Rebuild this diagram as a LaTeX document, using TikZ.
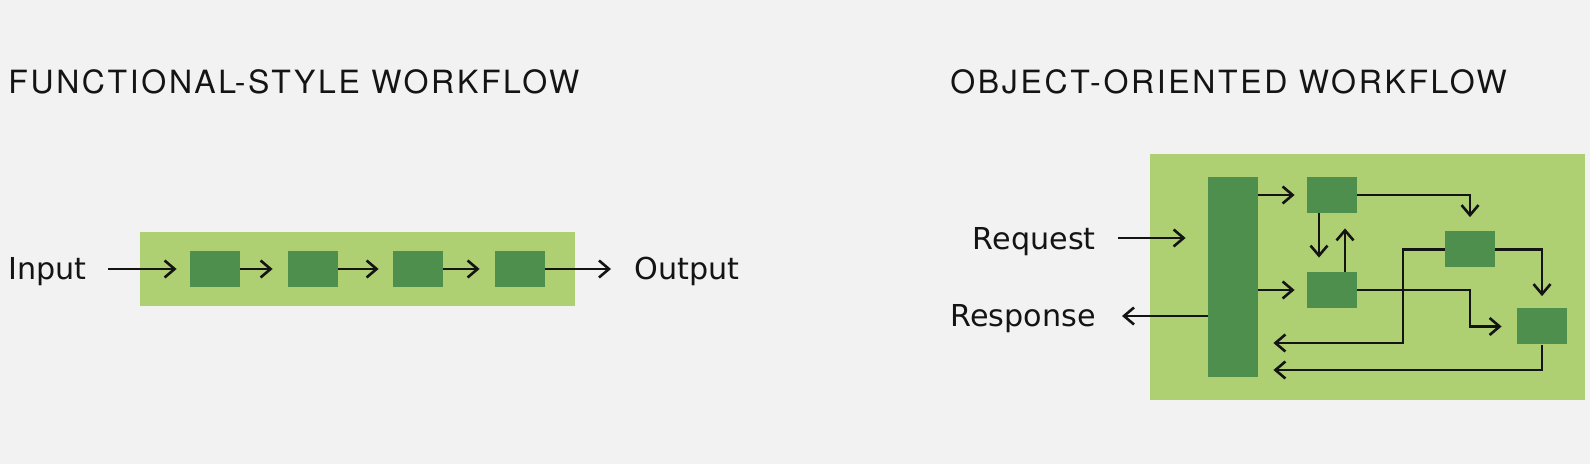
\documentclass[tikz,border=0pt]{standalone}
\usepackage{fontspec}
\setmainfont{DejaVu Sans}
\newfontfamily\titlefont[LetterSpace=8.3]{TeX Gyre Heros}
\usetikzlibrary{arrows.meta}
\definecolor{bgc}{HTML}{F2F2F2}
\definecolor{lightg}{HTML}{AFCF73}
\definecolor{darkg}{HTML}{4F8F4D}
\definecolor{ink}{HTML}{141414}
\tikzset{
  band/.style={fill=lightg, draw=none},
  box/.style={fill=darkg, draw=none, minimum width=25pt, minimum height=18pt, inner sep=0pt},
  arr/.style={draw=ink, line width=1.3pt, -{Straight Barb[length=5pt,width=8.5pt,line width=1.3pt]}},
  lbl/.style={inner sep=0pt, font=\fontsize{15.1}{18}\selectfont, text=ink},
  ttl/.style={inner sep=0pt, font=\titlefont\fontsize{16}{19}\selectfont, text=ink},
}
\begin{document}
\begin{tikzpicture}[x=0.5pt,y=-0.5pt]
\fill[bgc] (0,0) rectangle (1590,464);
\useasboundingbox (0,0) rectangle (1590,464);
% titles
\node[ttl, anchor=base west] (t1) at (8,94) {FUNCTIONAL-STYLE WORKFLOW};
\node[ttl, anchor=base west] (t2) at (950,94) {OBJECT-ORIENTED WORKFLOW};
% left diagram
\fill[band] (140,232) rectangle (575,306);
\node[box] (b1) at (215,269) {};
\node[box] (b2) at (313,269) {};
\node[box] (b3) at (418,269) {};
\node[box] (b4) at (520,269) {};
\node[lbl, anchor=base west] (inp) at (8,280) {Input};
\node[lbl, anchor=base west] (out) at (634,280) {Output};
\coordinate (inS) at (108,269);
\coordinate (outE) at (611,269);
\draw[arr, shorten >=6.5pt] (inS) -- (b1.west);
\draw[arr, shorten >=7.5pt] (b1.east) -- (b2.west);
\draw[arr, shorten >=7pt] (b2.east) -- (b3.west);
\draw[arr, shorten >=7.5pt] (b3.east) -- (b4.west);
\draw[arr] (b4.east) -- (outE);
% right diagram
\fill[band] (1150,154) rectangle (1585,400);
\node[box, minimum height=100pt] (bar) at (1233,277) {};
\node[box] (A) at (1332,195) {};
\node[box] (B) at (1332,290) {};
\node[box] (C) at (1470,249.5) {};
\node[box] (D) at (1542,326.5) {};
\node[lbl, anchor=base east] (req) at (1096,250) {Request};
\node[lbl, anchor=base east] (res) at (1096,327) {Response};
\coordinate (reqS) at (1118,238);
\coordinate (resE) at (1122,316);
\coordinate (k1) at (1403,343);
\coordinate (k2) at (1542,370);
\draw[arr, shorten >=11pt] (reqS) -- (reqS -| bar.west);
\draw[arr] (bar.west |- resE) -- (resE);
\draw[arr, shorten >=6pt] (bar.east |- A) -- (A.west);
\draw[arr, shorten >=6pt] (bar.east |- B) -- (B.west);
\draw[arr, shorten >=7pt] ([xshift=-6.5pt]A.south) -- ([xshift=-6.5pt]B.north);
\draw[arr, shorten >=7.5pt] ([xshift=6.5pt]B.north) -- ([xshift=6.5pt]A.south);
\draw[arr, shorten >=7pt] (A.east) -| (C.north);
\draw[arr, shorten >=6pt] (C.east) -| (D.north);
\draw[arr, shorten >=7.5pt] (B.east) -| (C |- D) -- (D.west);
\draw[arr, shorten >=7.5pt] (C.west) -| (k1) -- (k1 -| bar.east);
\draw[arr, shorten >=7.5pt] (D.south) |- (k2 -| bar.east);
\end{tikzpicture}
\end{document}
